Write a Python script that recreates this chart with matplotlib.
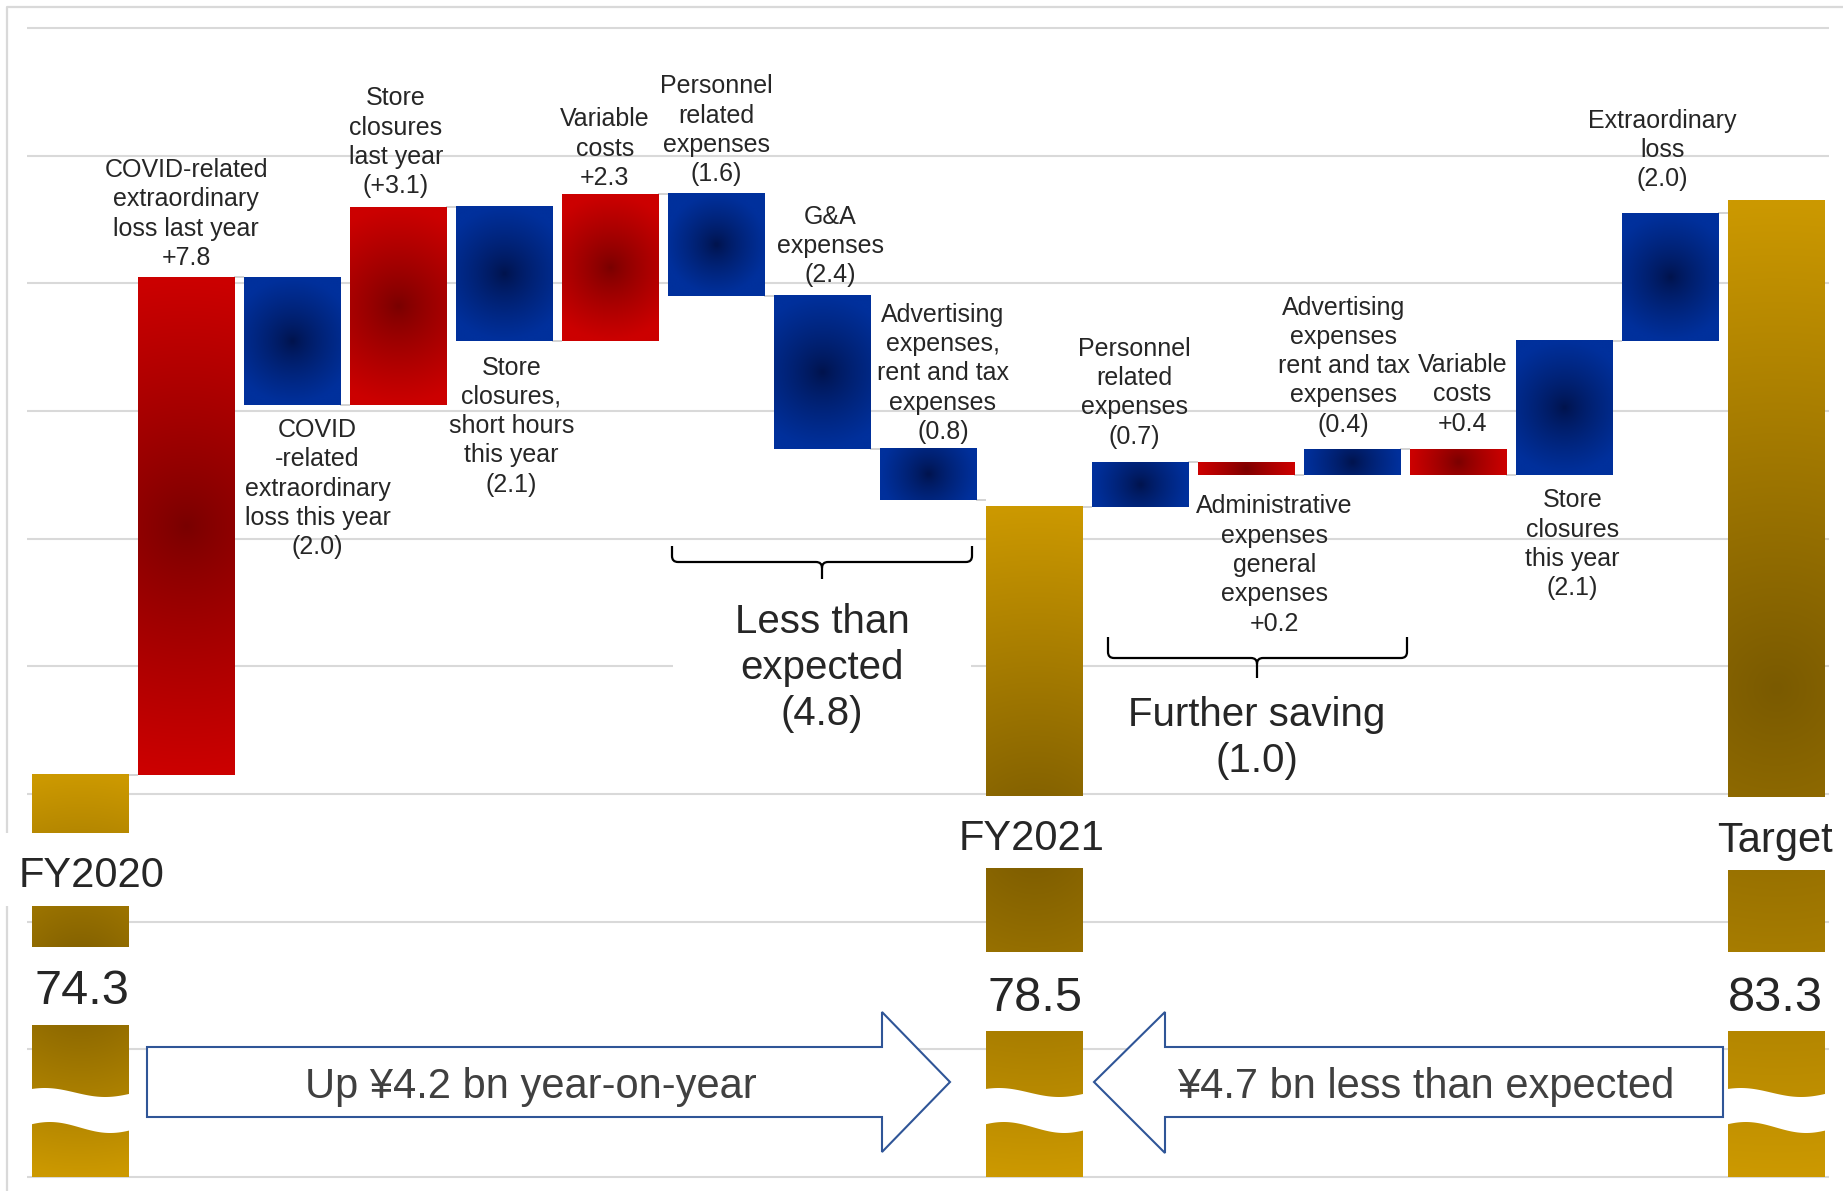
import numpy as np
import matplotlib
matplotlib.use("Agg")
import matplotlib.pyplot as plt
from matplotlib.patches import Rectangle, Polygon, PathPatch
from matplotlib.path import Path
from matplotlib.lines import Line2D

plt.rcParams['font.family'] = ['Liberation Sans', 'DejaVu Sans']

# ---------------- data ----------------
step_labels = [
    "FY2020",
    "COVID-related\nextraordinary\nloss last year\n+7.8",
    "COVID\n-related\nextraordinary\nloss this year\n(2.0)",
    "Store\nclosures\nlast year\n(+3.1)",
    "Store\nclosures,\nshort hours\nthis year\n(2.1)",
    "Variable\ncosts\n+2.3",
    "Personnel\nrelated\nexpenses\n(1.6)",
    "G&A\nexpenses\n(2.4)",
    "Advertising\nexpenses,\nrent and tax\nexpenses\n(0.8)",
    "FY2021",
    "Personnel\nrelated\nexpenses\n(0.7)",
    "Administrative\nexpenses\ngeneral\nexpenses\n+0.2",
    "Advertising\nexpenses\nrent and tax\nexpenses\n(0.4)",
    "Variable\ncosts\n+0.4",
    "Store\nclosures\nthis year\n(2.1)",
    "Extraordinary\nloss\n(2.0)",
    "Target",
]
step_values = [74.3, 7.8, -2.0, 3.1, -2.1, 2.3, -1.6, -2.4, -0.8,
               78.5, 0.7, -0.2, 0.4, -0.4, 2.1, 2.0, 83.3]
step_kinds = ['total', 'red', 'blue', 'red', 'blue', 'red', 'blue', 'blue', 'blue',
              'total', 'blue', 'red', 'blue', 'red', 'blue', 'blue', 'total']
label_side = ['', 'above', 'below', 'above', 'below', 'above', 'above', 'above', 'above',
              '', 'above', 'below', 'above', 'above', 'below', 'above', '']
group_texts = ["Less than\nexpected\n(4.8)", "Further saving\n(1.0)"]
arrow_texts = ["Up ¥4.2 bn year-on-year", "¥4.7 bn less than expected"]

# ---------------- layout (styling only) ----------------
label_dx = [0, 0, 0.24, -0.02, 0.07, -0.05, 0, 0.08, 0.14, 0,
            -0.05, 0.27, -0.08, 0.04, 0.08, -0.07, 0]
label_pad = [0, 5.1, 9.6, 6.1, 10.6, 2.9, 5.5, 6.2, 3.9, 0,
             9.7, 14.0, 9.0, 9.8, 9.8, 15.8, 0]

W, H = 1843, 1191
BASE, Y_TOP = 68.0, 86.0
AX_L, AX_R = 27, 1829
PY_TOP, PY_BASE = 28, 1177
PPY = (PY_BASE - PY_TOP) / (Y_TOP - BASE)
PPX = (AX_R - AX_L) / 17.0
BW = 0.91


def dx(px):
    return (px - AX_L) / PPX - 0.5


def dy(py):
    return BASE + (PY_BASE - py) / PPY


TXT = '#262626'
GRID = '#D9D9D9'

fig = plt.figure(figsize=(W / 100, H / 100), dpi=100)
fig.patch.set_facecolor('white')
top_px, bot_px = 24, 1181
ax = fig.add_axes([AX_L / W, 1 - bot_px / H, (AX_R - AX_L) / W, (bot_px - top_px) / H])
ax.patch.set_facecolor('none')
for s in ax.spines.values():
    s.set_visible(False)

# outer light frame (left & top)
fig.add_artist(Line2D([7 / W, 7 / W, 1.01], [-0.01, 1 - 7 / H, 1 - 7 / H],
                      transform=fig.transFigure, color=GRID, lw=1.6, zorder=-1))

COLORS = {'red': ((204, 0, 0), (120, 0, 0), 0.8),
          'blue': ((0, 48, 156), (0, 18, 74), 0.75),
          'total': ((204, 153, 0), (122, 90, 0), 1.0)}


def gradient(kind, wpx, hpx):
    bright, dark, gam = COLORS[kind]
    bright, dark = np.array(bright) / 255.0, np.array(dark) / 255.0
    nx = 48
    ny = int(np.clip(nx * hpx / wpx, 6, 600))
    X, Y = np.meshgrid(np.linspace(-wpx / 2, wpx / 2, nx), np.linspace(-hpx / 2, hpx / 2, ny))
    R = max(wpx, hpx) / 2
    t = np.clip(np.hypot(X, Y) / R, 0, 1) ** gam
    return dark + (bright - dark) * t[..., None]


# compute bars
bottoms, tops, levels = [], [], []
level = None
for v, k in zip(step_values, step_kinds):
    if k == 'total':
        b, t = BASE, v
        level = v
    else:
        b, t = level, level + v
        level = level + v
    bottoms.append(min(b, t))
    tops.append(max(b, t))
    levels.append(level)

n = len(step_values)
xs = np.arange(n)
for i in range(n):
    wpx = BW * PPX
    hpx = (tops[i] - bottoms[i]) * PPY
    img = gradient(step_kinds[i], wpx, hpx)
    ax.imshow(img, extent=(xs[i] - BW / 2, xs[i] + BW / 2, bottoms[i], tops[i]),
              origin='lower', aspect='auto', interpolation='bilinear', zorder=2)

# connectors
for i in range(n - 1):
    ax.plot([xs[i] + BW / 2, xs[i + 1] - BW / 2], [levels[i], levels[i]],
            color='#D0D0D0', lw=1.3, zorder=1.5, solid_capstyle='butt')

# gridlines
ax.set_yticks(np.arange(BASE, Y_TOP + 0.1, 2))
ax.set_xticks([])
ax.tick_params(length=0, labelleft=False, labelbottom=False)
ax.grid(axis='y', color=GRID, lw=1.5)
ax.set_axisbelow(True)

# step labels
for i in range(n):
    if step_kinds[i] == 'total':
        continue
    if label_side[i] == 'above':
        ax.annotate(step_labels[i], xy=(xs[i] + label_dx[i], tops[i]),
                    xytext=(0, label_pad[i]), textcoords='offset points',
                    ha='center', va='bottom', multialignment='center',
                    fontsize=18, color=TXT, linespacing=1.28, zorder=6)
    else:
        ax.annotate(step_labels[i], xy=(xs[i] + label_dx[i], bottoms[i]),
                    xytext=(0, -label_pad[i]), textcoords='offset points',
                    ha='center', va='top', multialignment='center',
                    fontsize=18, color=TXT, linespacing=1.28, zorder=6)

# axis-break decoration on total bars: white gaps with name / value, and a wave
total_idx = [i for i in range(n) if step_kinds[i] == 'total']
gap_name_px = [(833, 906), (796, 868), (797, 870)]
gap_val_px = [(947, 1025), (952, 1031), (952, 1031)]
name_pos_px = [(92, 876), (1032, 839), (1775, 841)]
val_pos_px = [(82, 992), (1035, 999), (1775, 999)]
for j, i in enumerate(total_idx):
    x0, x1 = xs[i] - BW / 2 - 0.02, xs[i] + BW / 2 + 0.02
    g0, g1 = gap_name_px[j]
    if j == 0:
        rx0, rx1 = dx(0), dx(175)
    else:
        rx0, rx1 = x0, x1
    ax.add_patch(Rectangle((rx0, dy(g1)), rx1 - rx0, dy(g0) - dy(g1), facecolor='white',
                           edgecolor='none', zorder=3, clip_on=False))
    g0, g1 = gap_val_px[j]
    ax.add_patch(Rectangle((x0, dy(g1)), x1 - x0, dy(g0) - dy(g1), facecolor='white',
                           edgecolor='none', zorder=3, clip_on=False))
    # wave
    tt = np.linspace(0, 1, 60)
    up = 1092.5 - 4.5 * np.cos(np.pi * (tt - 0.15) / 0.6)
    lo = 1127.5 - 5.5 * np.cos(np.pi * (tt - 0.2) / 0.6)
    xx = x0 + (x1 - x0) * tt
    poly = np.vstack([np.column_stack([xx, dy(up)]), np.column_stack([xx[::-1], dy(lo[::-1])])])
    ax.add_patch(Polygon(poly, closed=True, facecolor='white', edgecolor='none', zorder=3))
    nxp, nyp = name_pos_px[j]
    ax.text(dx(nxp), dy(nyp), step_labels[i], ha='center', va='center', fontsize=30,
            color=TXT, zorder=6, clip_on=False)
    vxp, vyp = val_pos_px[j]
    ax.text(dx(vxp), dy(vyp), f"{step_values[i]:.1f}", ha='center', va='center',
            fontsize=35, color=TXT, zorder=6, clip_on=False)

# brackets
def bracket(x0, x1, xc, ytop, yl, ybot, r=6):
    pts = [(x0, ytop), (x0, yl - r), (x0, yl), (x0 + r, yl), (xc - r, yl), (xc, yl),
           (xc, yl + r), (xc, ybot),
           (x1, ytop), (x1, yl - r), (x1, yl), (x1 - r, yl), (xc + r, yl), (xc, yl), (xc, yl + r)]
    codes = [Path.MOVETO, Path.LINETO, Path.CURVE3, Path.CURVE3, Path.LINETO, Path.CURVE3,
             Path.CURVE3, Path.LINETO,
             Path.MOVETO, Path.LINETO, Path.CURVE3, Path.CURVE3, Path.LINETO, Path.CURVE3,
             Path.CURVE3]
    verts = [(dx(a), dy(b)) for a, b in pts]
    ax.add_patch(PathPatch(Path(verts, codes), facecolor='none', edgecolor='black',
                           lw=1.6, zorder=5, capstyle='butt'))


bracket(672, 972, 822, 546, 562, 579)
bracket(1108, 1407, 1257, 637, 658, 678)

# white box behind "Less than expected"
ax.add_patch(Rectangle((dx(673), dy(742)), dx(971) - dx(673), dy(588) - dy(742),
                       facecolor='white', edgecolor='none', zorder=1))
ax.text(dx(822), dy(668), group_texts[0], ha='center', va='center', fontsize=29,
        color=TXT, linespacing=1.28, zorder=6)
ax.text(dx(1257), dy(738), group_texts[1], ha='center', va='center', fontsize=29,
        color=TXT, linespacing=1.28, zorder=6)

# bottom arrows
ARROW = '#2F5597'
right_arrow = [(147, 1047), (882, 1047), (882, 1012), (950, 1082), (882, 1152),
               (882, 1117), (147, 1117)]
left_arrow = [(1723, 1047), (1165, 1047), (1165, 1012), (1094, 1082), (1165, 1153),
              (1165, 1117), (1723, 1117)]
for shape in (right_arrow, left_arrow):
    ax.add_patch(Polygon([(dx(a), dy(b)) for a, b in shape], closed=True, facecolor='white',
                         edgecolor=ARROW, lw=1.5, zorder=4, joinstyle='miter'))
ax.text(dx(531), dy(1087), arrow_texts[0], ha='center', va='center', fontsize=30,
        color='#404040', zorder=6)
ax.text(dx(1426), dy(1087), arrow_texts[1], ha='center', va='center', fontsize=30,
        color='#404040', zorder=6)

ax.set_xlim(-0.5, 16.5)
ax.set_ylim(dy(bot_px), dy(top_px))

fig.savefig('out.png', dpi=100, facecolor='white')
